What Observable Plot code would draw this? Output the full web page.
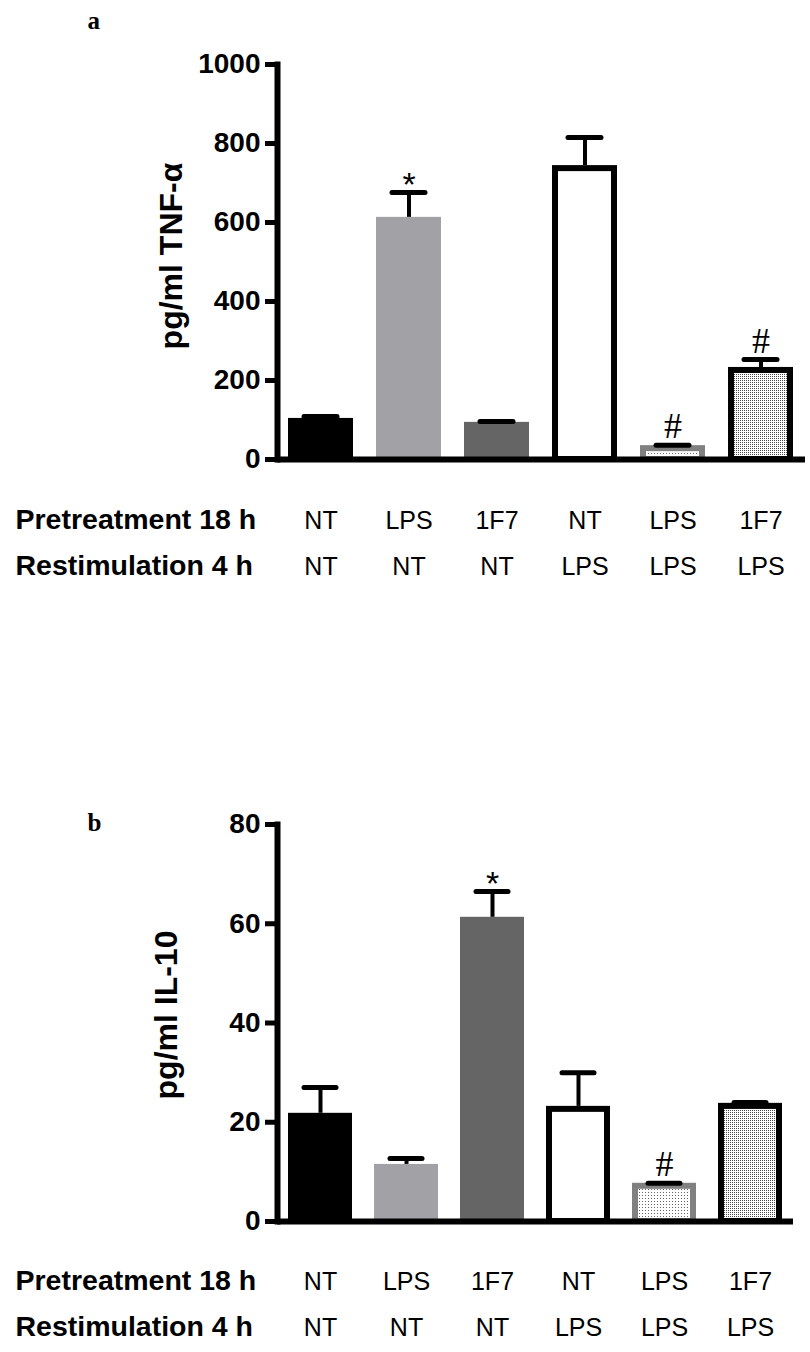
<!DOCTYPE html>
<html>
<head>
<meta charset="utf-8">
<script src="https://cdn.jsdelivr.net/npm/d3@7"></script>
<script src="https://cdn.jsdelivr.net/npm/@observablehq/plot@0.6"></script>
<style>
  html, body { margin: 0; padding: 0; background: #fff; }
  #charts svg { display: block; }
</style>
</head>
<body>
<svg width="0" height="0" style="position:absolute">
  <defs>
    <pattern id="dotsDark" width="2" height="2" patternUnits="userSpaceOnUse">
      <rect width="2" height="2" fill="#fff"/>
      <rect width="1" height="1" fill="#4a4a4a"/>
    </pattern>
    <pattern id="dotsLight" width="3" height="3" patternUnits="userSpaceOnUse">
      <rect width="3" height="3" fill="#fff"/>
      <rect width="1" height="1" fill="#666"/>
    </pattern>
  </defs>
</svg>
<div id="charts"></div>
<script>
// ---- data ----
const pretreatment = ["NT", "LPS", "1F7", "NT", "LPS", "1F7"];
const restimulation = ["NT", "NT", "NT", "LPS", "LPS", "LPS"];
const rowHeaders = ["Pretreatment 18 h", "Restimulation 4 h"];

const tnfValues = [104, 613, 94, 744, 35, 233];
const tnfErrors = [5, 63, 2, 71, 1, 20];
const tnfFlags = ["", "*", "", "", "#", "#"];
const tnfTicks = [0, 200, 400, 600, 800, 1000];

const il10Values = [21.8, 11.5, 61.3, 23.2, 7.7, 23.8];
const il10Errors = [5.2, 1.2, 5.2, 6.8, 0, 0.2];
const il10Flags = ["", "", "*", "", "#", ""];
const il10Ticks = [0, 20, 40, 60, 80];

// ---- styles ----
const barFills = ["#000000", "#a2a2a6", "#656565", "#ffffff", "url(#dotsLight)", "url(#dotsDark)"];
const barStrokes = [null, null, null, "#000000", "#808080", "#000000"];

function panel(o) {
  const data = o.values.map((v, i) => ({
    id: String(i),
    pre: pretreatment[i],
    re: restimulation[i],
    v,
    hi: v + o.errors[i],
    flag: o.flags[i],
    fill: barFills[i],
    stroke: barStrokes[i]
  }));
  return Plot.plot({
    width: 810,
    height: o.height,
    marginTop: o.marginTop,
    marginBottom: o.marginBottom,
    marginLeft: o.marginLeft,
    marginRight: o.marginRight,
    style: { fontFamily: "Liberation Sans, Arial, sans-serif", background: "#fff", color: "#000" },
    x: { domain: data.map(d => d.id), paddingInner: 0.26, paddingOuter: 0.13, axis: null },
    y: { domain: [0, o.ticks[o.ticks.length - 1]], axis: null },
    marks: [
      Plot.barY(data, { x: "id", y: "v", fill: "fill" }),
      Plot.barY(data.filter(d => d.stroke), {
        x: "id", y: "v", fill: "none", stroke: "stroke", strokeWidth: 6,
        insetLeft: 3, insetRight: 3, insetTop: 3, insetBottom: 0
      }),
      Plot.ruleX(data, { x: "id", y1: "v", y2: "hi", stroke: "#000", strokeWidth: 4 }),
      Plot.tickY(data, { x: "id", y: "hi", stroke: "#000", strokeWidth: 5, insetLeft: 16, insetRight: 16, strokeLinecap: "round" }),
      Plot.text(data.filter(d => d.flag === "#"), {
        x: "id", y: "hi", text: "flag", dy: -7, lineAnchor: "bottom",
        fontSize: 36, fontFamily: "Liberation Serif, Times New Roman, serif"
      }),
      Plot.text(data.filter(d => d.flag === "*"), {
        x: "id", y: "hi", text: "flag", dy: 4, lineAnchor: "bottom",
        fontSize: 34, fontFamily: "Liberation Sans, Arial, sans-serif"
      }),
      Plot.ruleY([0], { stroke: "#000", strokeWidth: 6 }),
      Plot.frame({ anchor: "left", stroke: "#000", strokeWidth: 6 }),
      Plot.axisY(o.ticks, {
        tickSize: 12, tickPadding: 5, strokeWidth: 5, fontSize: 28, fontWeight: "bold",
        label: null, tickFormat: "d"
      }),
      Plot.text([o.yLabel], {
        text: d => d, frameAnchor: "left", rotate: -90, dx: o.yLabelDx, dy: o.yLabelDy,
        textAnchor: "middle", lineAnchor: "bottom", fontSize: 32, fontWeight: "bold"
      }),
      Plot.text([o.letter], {
        text: d => d, frameAnchor: "top-left", dx: -190, dy: o.letterDy,
        textAnchor: "start", lineAnchor: "bottom", fontSize: 25, fontWeight: "bold",
        fontFamily: "Liberation Serif, Times New Roman, serif"
      }),
      Plot.text([rowHeaders[0]], {
        text: d => d, frameAnchor: "bottom-left", dx: -262, dy: o.row1,
        textAnchor: "start", lineAnchor: "bottom", fontSize: 28.5, fontWeight: "bold"
      }),
      Plot.text([rowHeaders[1]], {
        text: d => d, frameAnchor: "bottom-left", dx: -262, dy: o.row2,
        textAnchor: "start", lineAnchor: "bottom", fontSize: 28.5, fontWeight: "bold"
      }),
      Plot.text(data, { x: "id", text: "pre", frameAnchor: "bottom", dy: o.row1, lineAnchor: "bottom", fontSize: 25 }),
      Plot.text(data, { x: "id", text: "re", frameAnchor: "bottom", dy: o.row2, lineAnchor: "bottom", fontSize: 25 })
    ]
  });
}

const charts = document.getElementById("charts");
charts.append(panel({
  letter: "a", values: tnfValues, errors: tnfErrors, flags: tnfFlags, ticks: tnfTicks,
  yLabel: "pg/ml TNF-α", height: 676,
  marginTop: 64, marginBottom: 217, marginLeft: 277, marginRight: 5,
  yLabelDx: -96, yLabelDy: -6, letterDy: -36, row1: 69, row2: 115
}));
charts.append(panel({
  letter: "b", values: il10Values, errors: il10Errors, flags: il10Flags, ticks: il10Ticks,
  yLabel: "pg/ml IL-10", height: 676,
  marginTop: 148, marginBottom: 131, marginLeft: 277, marginRight: 17,
  yLabelDx: -101, yLabelDy: -8, letterDy: 6, row1: 68, row2: 114
}));
</script>
</body>
</html>
